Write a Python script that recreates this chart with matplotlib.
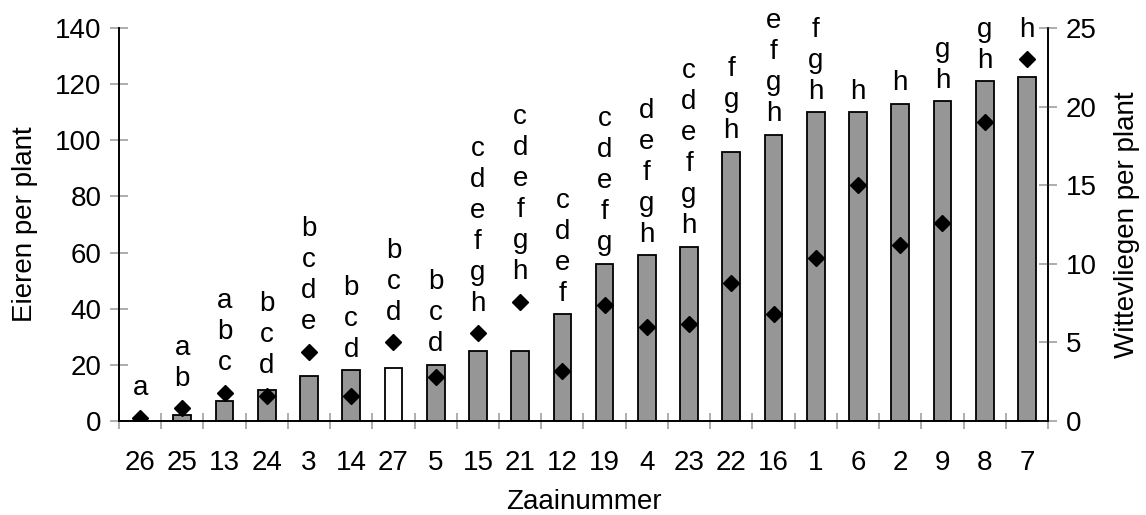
import matplotlib
matplotlib.use("Agg")
from matplotlib import pyplot as plt

plt.rcParams['font.family'] = ['Liberation Sans', 'DejaVu Sans']

zaai = ["26", "25", "13", "24", "3", "14", "27", "5", "15", "21", "12",
        "19", "4", "23", "22", "16", "1", "6", "2", "9", "8", "7"]
eieren = [0, 2, 7, 11, 16, 18, 19, 20, 25, 25, 38,
          56, 59, 62, 96, 102, 110, 110, 113, 114, 121, 122.5]
wittevliegen = [0.2, 0.8, 1.8, 1.6, 4.4, 1.6, 5.0, 2.8, 5.6, 7.6, 3.2,
                7.4, 6.0, 6.2, 8.8, 6.8, 10.4, 15.0, 11.2, 12.6, 19.0, 23.0]
letters = ["a", "ab", "abc", "bcd", "bcde", "bcd", "bcd", "bcd", "cdefgh", "cdefgh", "cdef",
           "cdefg", "defgh", "cdefgh", "fgh", "efgh", "fgh", "h", "h", "gh", "gh", "h"]
white_bar = "27"

fig = plt.figure(figsize=(11.46, 5.15), dpi=100)
ax = fig.add_axes([0.1038, 0.1825, 0.8107, 0.7631])
ax2 = ax.twinx()

x = list(range(len(zaai)))
colors = ["white" if z == white_bar else "#969696" for z in zaai]
ax.bar(x, eieren, width=0.42, color=colors, edgecolor="black", linewidth=1.3, zorder=2)

ax.set_ylim(0, 140)
ax2.set_ylim(0, 25)
ax.set_xlim(-0.5, len(zaai) - 0.5)

ax2.plot(x, wittevliegen, linestyle="none", marker="D", markersize=7.8,
         color="black", zorder=3)

# significance letters above the bar or the diamond
scale = 140 / 25
for i in range(len(zaai)):
    anchor = max(eieren[i] + 4.8, wittevliegen[i] * scale + 8.0)
    for k, ch in enumerate(reversed(letters[i])):
        ax.annotate(ch, xy=(i, anchor), xytext=(0, k * 31), textcoords="offset pixels",
                    ha="center", va="baseline", fontsize=20, annotation_clip=False)

ax.set_xticks(x)
ax.set_xticklabels(zaai, fontsize=20)
ax.set_xticks([i - 0.5 for i in range(len(zaai) + 1)], minor=True)
ax.tick_params(axis="x", which="major", length=0, pad=21)
ax.tick_params(axis="x", which="minor", direction="inout", length=11, color="#a0a0a0", width=1.2)
ax.set_yticks(range(0, 141, 20))
ax.tick_params(axis="y", direction="inout", length=13, color="#a0a0a0", width=1.2,
               labelsize=20, pad=6)
ax2.set_yticks(range(0, 26, 5))
ax2.tick_params(axis="y", direction="inout", length=13, color="#a0a0a0", width=1.2,
                labelsize=20, pad=6)

for a in (ax, ax2):
    a.spines["top"].set_visible(False)
    for s in ("left", "right", "bottom"):
        a.spines[s].set_linewidth(1.2)

ax.set_xlabel("Zaainummer", fontsize=20, labelpad=9)
ax.set_ylabel("Eieren per plant", fontsize=20, labelpad=12)
ax2.set_ylabel("Wittevliegen per plant", fontsize=20, labelpad=13)

fig.savefig("out.png", dpi=100)
